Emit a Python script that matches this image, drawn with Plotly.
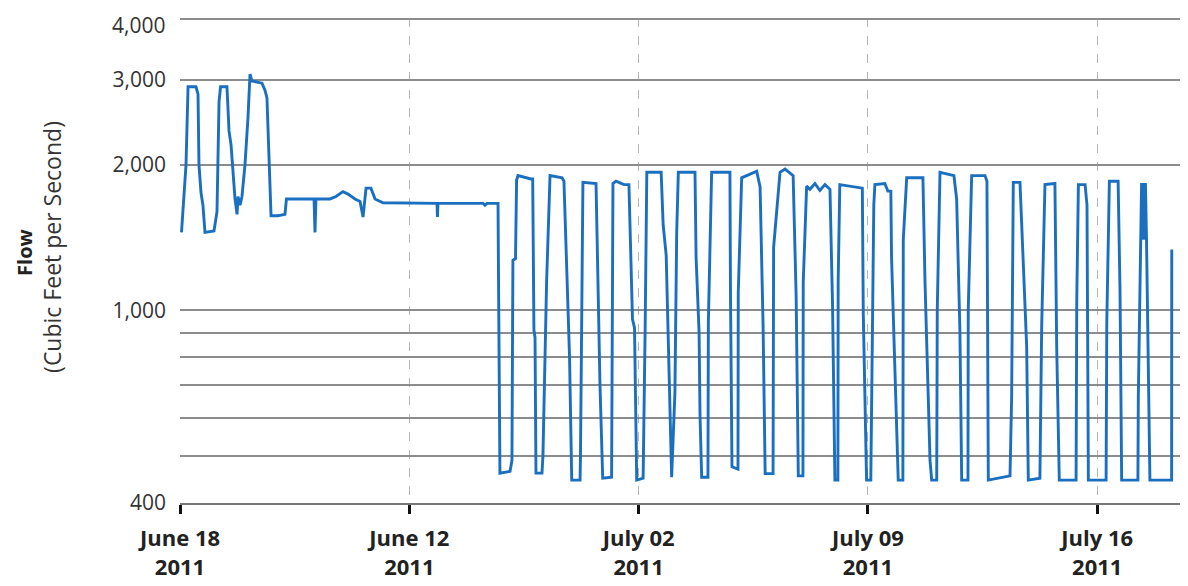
import math
import pandas as pd
import plotly.graph_objects as go

# Hours since 2011-06-18 00:00
hours = [1.1, 2.2, 3.3, 4.4, 5.9, 11.7, 13.2, 13.9, 15.4, 16.8, 18.3, 24.9, 27.1, 28.6, 29.7,
         34.4, 35.2, 35.9, 37.4, 38.8, 40.3, 41.8, 42.5, 44.0, 45.4, 47.6, 49.8, 51.3, 52.7,
         60.1, 62.3, 63.7, 64.8, 65.9, 66.7, 71.8, 76.9, 78.0, 98.2, 98.9, 99.6, 109.9, 114.3,
         119.4, 123.1, 128.2, 131.9, 134.1, 136.3, 139.9, 142.9, 148.7, 188.3, 188.6, 189.0,
         222.0, 223.4, 224.9, 233.0, 233.3, 234.4,
         241.8, 243.2, 243.9, 245.8, 246.6, 247.6, 257.1, 258.4, 259.3, 260.1, 260.8,
         265.2, 265.9, 268.6, 271.1, 279.9, 281.3, 283.5, 285.4, 287.0,
         293.1, 293.4, 294.3, 295.2, 304.8, 305.5, 307.7, 309.7,
         316.2, 317.2, 319.4, 325.3, 328.9, 331.5, 333.0, 334.6,
         339.3, 340.8, 342.0, 352.5, 354.0, 356.2, 359.1, 360.2,
         362.6, 363.9, 365.1, 377.3, 378.1, 380.3, 381.0, 382.2,
         386.8, 387.1, 389.5, 402.9, 403.3, 404.4,
         408.8, 409.0, 411.5, 422.5, 425.0, 427.2, 428.7,
         434.5, 434.9, 439.6, 443.3, 449.2, 451.4, 453.0,
         456.4, 456.6, 459.1, 461.5, 465.2, 468.8, 472.5, 476.2, 478.1, 479.8,
         482.0, 482.2, 483.4, 495.1, 499.9, 500.6, 503.0,
         506.1, 507.4, 508.3, 509.1, 516.4, 518.6, 520.8, 521.3, 525.0, 526.2,
         529.6, 529.9, 532.4, 544.3, 545.8, 549.5, 550.7,
         554.4, 554.8, 556.8, 567.0, 569.0, 571.4, 572.7,
         577.3, 577.5, 580.0, 589.8, 591.2, 592.2,
         608.1, 609.3, 610.5, 615.4, 616.6, 620.3, 621.5,
         630.0, 631.3, 633.7, 641.0, 642.3, 644.2,
         656.5, 657.0, 658.2, 663.1, 664.5, 665.5,
         678.5, 679.0, 680.9, 687.3, 688.7, 689.9,
         701.8, 702.1, 703.8, 704.5, 705.1, 705.9, 706.6, 707.3, 708.1, 709.4, 710.6,
         726.5, 726.6]

flow = [1450, 1600, 1800, 2000, 2900, 2900, 2800, 2000, 1750, 1650, 1450, 1460, 1600, 2700, 2900,
        2900, 2600, 2350, 2200, 1900, 1700, 1580, 1720, 1650, 1720, 2000, 2500, 3080, 2980,
        2950, 2850, 2750, 2200, 1700, 1570, 1570, 1580, 1700, 1700, 1450, 1700, 1700, 1720,
        1760, 1740, 1700, 1680, 1560, 1790, 1790, 1700, 1670, 1665, 1560, 1665,
        1665, 1650, 1665, 1665, 1230, 461,
        465, 490, 1270, 1280, 1860, 1900, 1870, 1870, 910, 880, 461,
        461, 500, 1150, 1900, 1880, 1850, 1150, 800, 446,
        446, 500, 1250, 1840, 1830, 1400, 700, 450,
        452, 1830, 1850, 1820, 1820, 960, 920, 446,
        450, 926, 1930, 1930, 1500, 1300, 600, 452,
        676, 1450, 1930, 1930, 1290, 900, 604, 452,
        452, 946, 1930, 1930, 1090, 475,
        470, 1090, 1880, 1940, 1800, 926, 460,
        460, 1350, 1930, 1960, 1900, 1073, 455,
        455, 1143, 1807, 1780, 1830, 1770, 1820, 1780, 1018, 446,
        446, 1150, 1820, 1800, 1790, 986, 446,
        446, 842, 1650, 1820, 1830, 1765, 1765, 1290, 594, 446,
        446, 1400, 1880, 1880, 1150, 490, 446,
        446, 1003, 1930, 1900, 1700, 903, 446,
        446, 1003, 1900, 1900, 1850, 446,
        455, 664, 1840, 1840, 1520, 842, 446,
        450, 926, 1820, 1830, 842, 446,
        446, 1052, 1820, 1820, 1650, 446,
        446, 946, 1850, 1850, 1090, 446,
        446, 664, 1400, 1835, 1400, 1835, 1400, 1835, 1400, 664, 446,
        446, 1336]

x_tick_dates = ["2011-06-18", "2011-06-25", "2011-07-02", "2011-07-09", "2011-07-16"]
x_tick_line1 = ["June 18", "June 12", "July 02", "July 09", "July 16"]
x_tick_line2 = ["2011", "2011", "2011", "2011", "2011"]
y_grid_vals = [400, 500, 600, 700, 800, 900, 1000, 2000, 3000, 4000]
y_grid_text = ["400", "", "", "", "", "", "1,000", "2,000", "3,000", "4,000"]

start = pd.Timestamp("2011-06-18 00:00")
times = start + pd.to_timedelta(hours, unit="h")

fig = go.Figure()
fig.add_trace(go.Scatter(x=times, y=flow, mode="lines",
                         line=dict(color="#1a6fc0", width=2.9), showlegend=False))

font_family = "Open Sans, Lato, DejaVu Sans, sans-serif"
ytick_font = dict(size=21, color="#333")

# the top label sits at the very edge of the page, where Plotly would drop it,
# so it is drawn as an annotation at its axis value instead
top_val, top_text = y_grid_vals[-1], y_grid_text[-1]
axis_text = y_grid_text[:-1] + [""]

# The page body has an 8px margin, so the figure is sized/offset to compensate.
fig.update_layout(
    width=1180, height=578,
    margin=dict(l=172, r=0, t=10, b=83),
    paper_bgcolor="white", plot_bgcolor="white",
    font=dict(family=font_family, color="#222"),
    xaxis=dict(
        range=[start, start + pd.Timedelta(hours=738.5)],
        tickvals=pd.to_datetime(x_tick_dates),
        ticktext=[f"<b>{a}</b><br><b>{b}</b>" for a, b in zip(x_tick_line1, x_tick_line2)],
        tickfont=dict(size=22, color="#222"),
        showgrid=True, gridcolor="#b5b5b5", gridwidth=1, griddash="dash",
        showline=True, linecolor="#777", linewidth=1.5,
        ticks="outside", ticklen=9, tickwidth=3, tickcolor="#111",
        ticklabelstandoff=6,
        zeroline=False,
    ),
    yaxis=dict(
        type="log", range=[2.60200, 3.6045],
        tickvals=y_grid_vals, ticktext=axis_text,
        tickfont=ytick_font,
        showgrid=True, gridcolor="#8c8c8c", gridwidth=1.5,
        showline=False, ticks="", ticklabelstandoff=13,
        zeroline=False,
    ),
    annotations=[
        dict(text=top_text, xref="paper", yref="y", x=0, y=math.log10(top_val),
             xanchor="right", yanchor="top", xshift=-13, yshift=10, showarrow=False,
             font=ytick_font),
        dict(text="<b>Flow</b>", textangle=-90, xref="paper", yref="paper",
             x=-0.1538, y=0.5176, xanchor="center", yanchor="middle",
             showarrow=False, font=dict(size=20, color="#222")),
        dict(text="(Cubic Feet per Second)", textangle=-90, xref="paper", yref="paper",
             x=-0.127, y=0.528, xanchor="center", yanchor="middle",
             showarrow=False, font=dict(size=23, color="#333")),
    ],
)

fig.write_html("out.html")
